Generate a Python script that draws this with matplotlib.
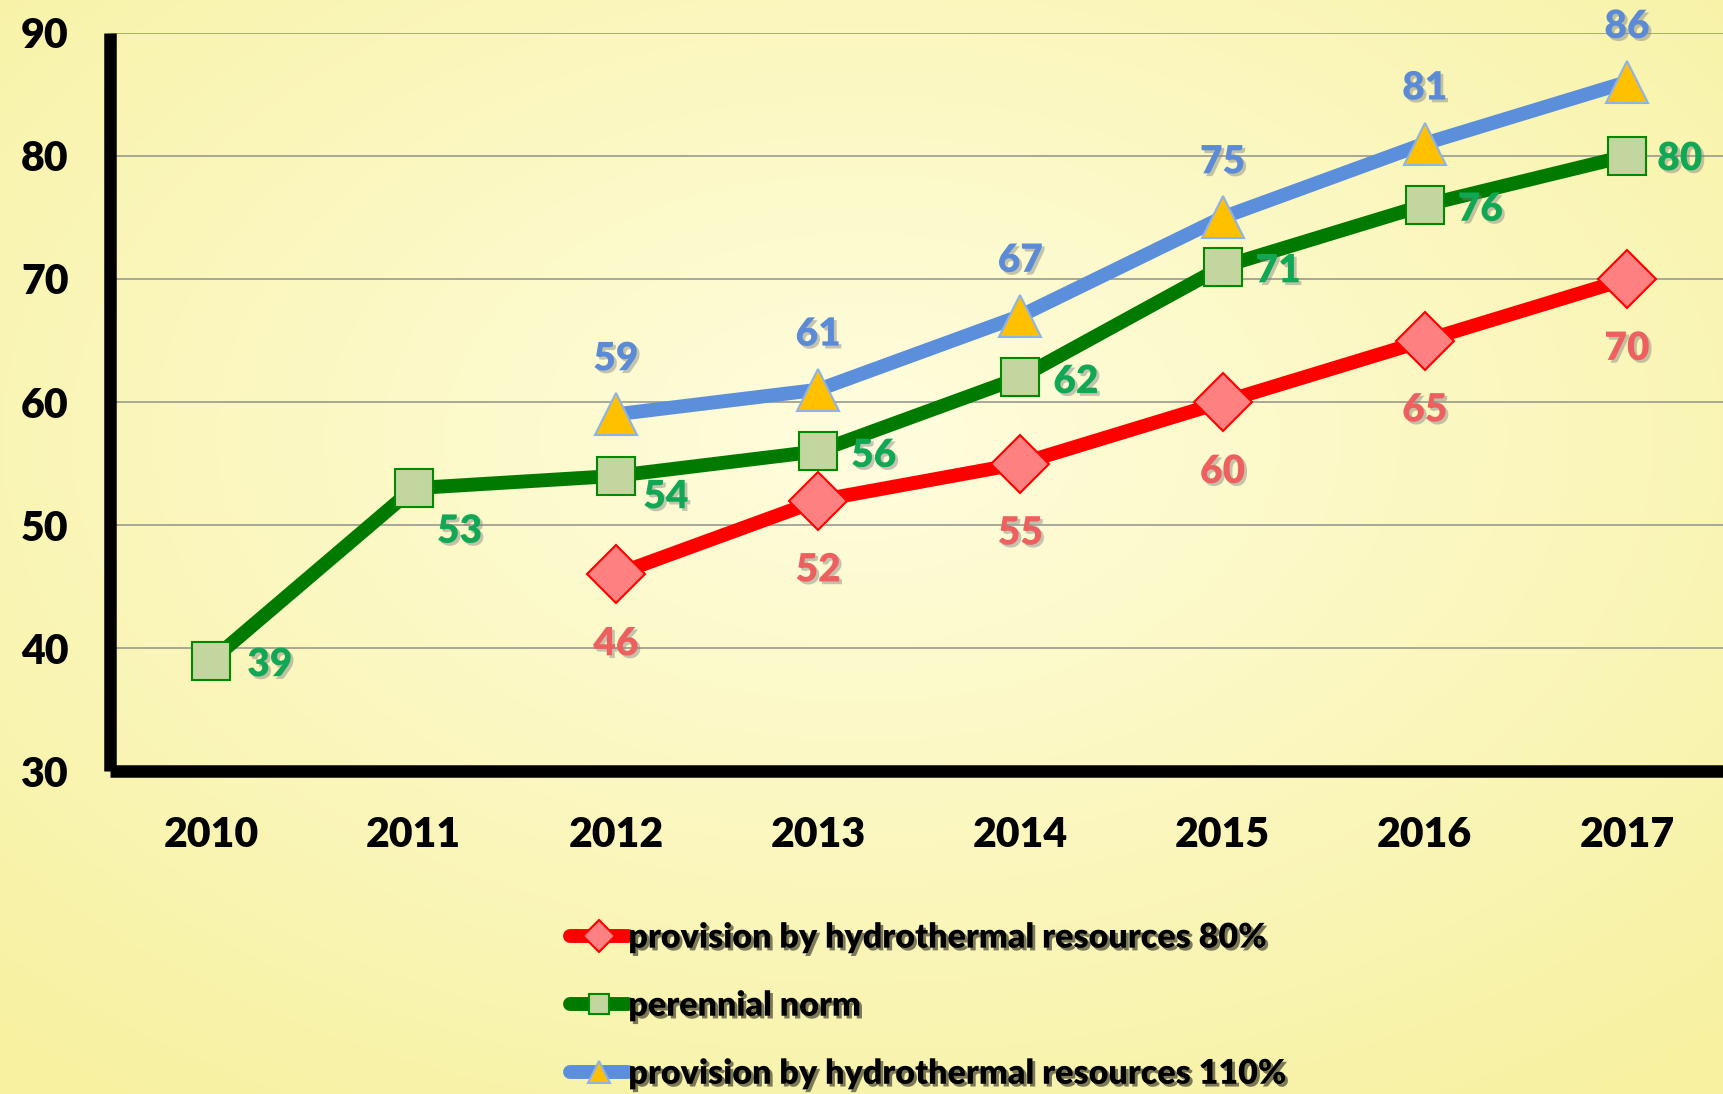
import matplotlib.pyplot as plt
import matplotlib.patheffects as pe
import numpy as np

plt.rcParams['font.family'] = ['Lato', 'DejaVu Sans']
plt.rcParams['font.weight'] = 'heavy'

years = ['2010', '2011', '2012', '2013', '2014', '2015', '2016', '2017']
provision_80 = [None, None, 46, 52, 55, 60, 65, 70]
perennial_norm = [39, 53, 54, 56, 62, 71, 76, 80]
provision_110 = [None, None, 59, 61, 67, 75, 81, 86]
y_ticks = [30, 40, 50, 60, 70, 80, 90]

label_80 = 'provision by hydrothermal resources 80%'
label_norm = 'perennial norm'
label_110 = 'provision by hydrothermal resources 110%'

W = 'heavy'


def to_arr(vals):
	return np.array([np.nan if v is None else v for v in vals], dtype=float)


fig = plt.figure(figsize=(17.24, 10.94), dpi=100)

# yellow radial gradient behind everything
bg = fig.add_axes([0, 0, 1, 1], zorder=-10)
gy, gx = np.mgrid[0:1:300j, 0:1:480j]
r = np.sqrt(((gx - 0.5) / 0.75) ** 2 + ((gy - 0.4) / 0.75) ** 2)
r = np.clip(r, 0, 1)
c_in = np.array([255, 253, 222]) / 255.0
c_out = np.array([247, 241, 160]) / 255.0
img = c_in[None, None, :] * (1 - r[..., None]) + c_out[None, None, :] * r[..., None]
bg.imshow(img, aspect='auto', extent=[0, 1, 0, 1], origin='upper')
bg.axis('off')

ax = fig.add_axes([0.064, 0.295, 0.936, 0.675])
ax.set_facecolor('none')

x = np.arange(len(years))
shadow = [pe.withSimplePatchShadow(offset=(2, -2), shadow_rgbFace='#808080', alpha=0.45)]

ax.plot(x, to_arr(provision_80), color='#FF0000', lw=10, solid_capstyle='round',
		marker='D', markersize=30, markerfacecolor='#FF8080', markeredgecolor='#FF0000',
		markeredgewidth=1.5, label=label_80, zorder=3)
ax.plot(x, to_arr(perennial_norm), color='#007A00', lw=10, solid_capstyle='round',
		marker='s', markersize=27, markerfacecolor='#C4D6A0', markeredgecolor='#008A00',
		markeredgewidth=1.5, label=label_norm, zorder=3)
ax.plot(x, to_arr(provision_110), color='#5B8EDB', lw=10, solid_capstyle='round',
		marker='^', markersize=30, markerfacecolor='#FFC000', markeredgecolor='#8DB3E8',
		markeredgewidth=1.5, label=label_110, zorder=3)

# data labels
for i, v in enumerate(provision_80):
	if v is not None:
		ax.annotate(str(v), (i, v), xytext=(0, -50), textcoords='offset points',
					ha='center', va='center', fontsize=28, fontweight=W,
					color='#EE6060', path_effects=shadow)

norm_offsets = [(42, -3), (33, -31), (36, -15), (40, -3), (40, -3), (40, -3), (40, -3), (38, -2)]
for i, v in enumerate(perennial_norm):
	dx, dy = norm_offsets[i]
	ax.annotate(str(v), (i, v), xytext=(dx, dy), textcoords='offset points',
				ha='center', va='center', fontsize=28, fontweight=W,
				color='#10A855', path_effects=shadow)

for i, v in enumerate(provision_110):
	if v is not None:
		ax.annotate(str(v), (i, v), xytext=(0, 40), textcoords='offset points',
					ha='center', va='center', fontsize=28, fontweight=W,
					color='#5B8BD6', path_effects=shadow)

ax.set_xlim(-0.5, 7.48)
ax.set_ylim(30, 90)
ax.set_yticks(y_ticks)
ax.set_xticks(x)
ax.set_xticklabels(years)
ax.tick_params(axis='both', length=0, labelsize=29.5)
ax.tick_params(axis='y', pad=30)
ax.tick_params(axis='x', pad=32)
for lbl in ax.get_xticklabels() + ax.get_yticklabels():
	lbl.set_fontweight(W)

ax.grid(axis='y', color='#9A9A90', lw=1.2)
ax.set_axisbelow(True)
for s in ['top', 'right']:
	ax.spines[s].set_visible(False)
for s in ['left', 'bottom']:
	ax.spines[s].set_linewidth(9)
	ax.spines[s].set_color('black')
	ax.spines[s].set_capstyle('butt')

leg = fig.legend(loc='upper left', bbox_to_anchor=(0.323, 0.17), frameon=False,
				 fontsize=24.5, handlelength=1.7, handletextpad=0.0, labelspacing=1.06,
				 markerscale=0.55, borderaxespad=0)
for t in leg.get_texts():
	t.set_fontweight(W)
	t.set_path_effects([pe.withSimplePatchShadow(offset=(2, -2), shadow_rgbFace='black', alpha=0.5)])

fig.savefig('out.png', dpi=100)
